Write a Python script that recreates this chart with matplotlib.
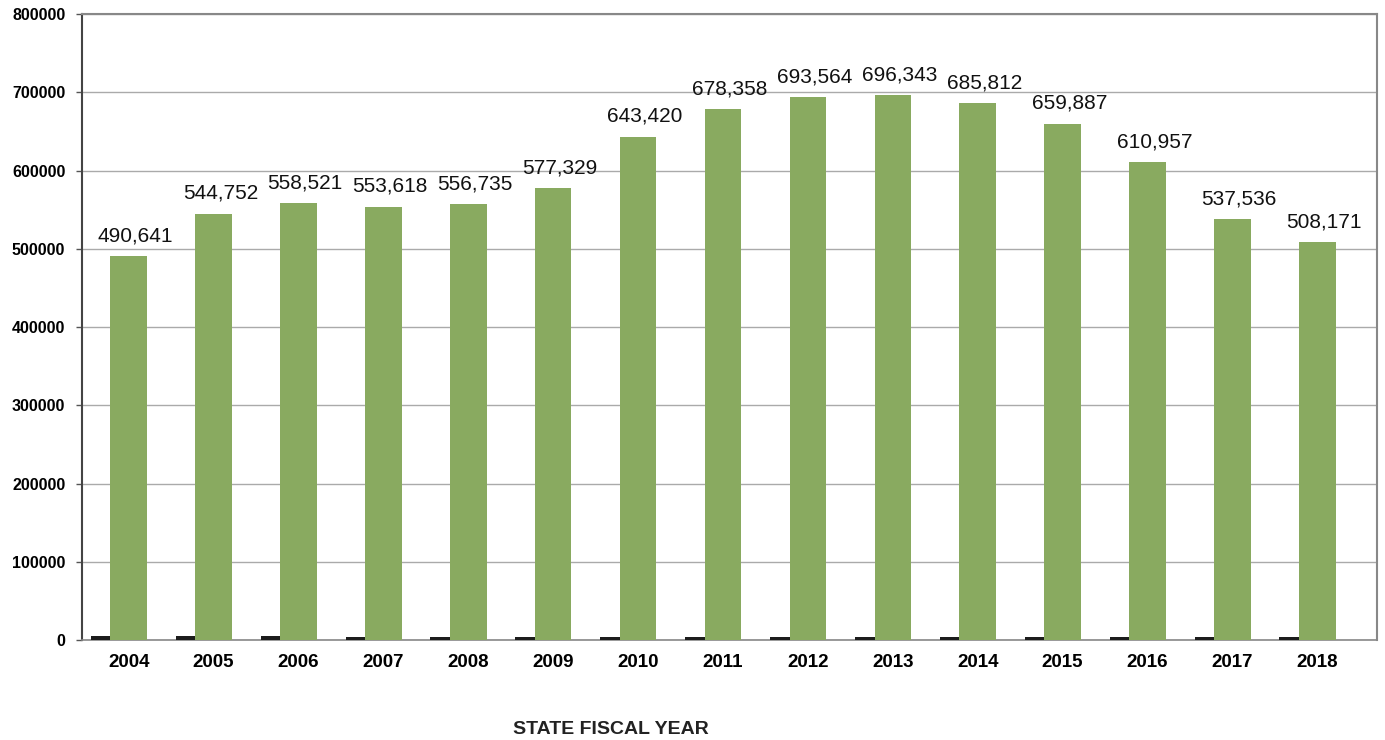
import matplotlib
matplotlib.use("Agg")
import matplotlib.pyplot as plt
import numpy as np

plt.rcParams['font.family'] = ['Liberation Sans', 'DejaVu Sans']

years = ["2004", "2005", "2006", "2007", "2008", "2009", "2010", "2011",
         "2012", "2013", "2014", "2015", "2016", "2017", "2018"]
enrollment = [490641, 544752, 558521, 553618, 556735, 577329, 643420, 678358,
              693564, 696343, 685812, 659887, 610957, 537536, 508171]
small_series = [5000, 4800, 4600, 4500, 4500, 4400, 4300, 4200,
                4200, 4100, 4100, 4000, 4000, 4000, 4000]
value_labels = ["490,641", "544,752", "558,521", "553,618", "556,735", "577,329",
                "643,420", "678,358", "693,564", "696,343", "685,812", "659,887",
                "610,957", "537,536", "508,171"]
y_ticks = [0, 100000, 200000, 300000, 400000, 500000, 600000, 700000, 800000]

fig = plt.figure(figsize=(13.85, 7.4), dpi=100)
ax = fig.add_axes([0.0592, 0.1351, 0.9348, 0.8459])

x = np.arange(len(years))
ax.bar(x - 0.32, small_series, width=0.25, color='#1c1c1c', zorder=3)
ax.bar(x, enrollment, width=0.43, color='#89aa60', zorder=3)

for xi, v, lab in zip(x, enrollment, value_labels):
    ax.text(xi + 0.08, v + 14000, lab, ha='center', va='bottom',
            fontsize=15, color='#111111')

ax.set_xlim(-0.55, 14.7)
ax.set_ylim(0, 800000)
ax.set_yticks(y_ticks)
ax.set_yticklabels([str(t) for t in y_ticks], fontsize=11.5, fontweight='bold')
ax.set_xticks(x)
ax.set_xticklabels(years, fontsize=13.5, fontweight='bold')
ax.tick_params(axis='x', length=0, pad=10)
ax.tick_params(axis='y', length=4, width=1, color='#555555', pad=8)
ax.yaxis.grid(True, color='#aaaaaa', linewidth=1, zorder=0)
ax.set_axisbelow(True)
for s in ['top', 'right']:
    ax.spines[s].set_color('#888888')
    ax.spines[s].set_linewidth(1.5)
ax.spines['left'].set_color('#444444')
ax.spines['left'].set_linewidth(1.5)
ax.spines['bottom'].set_color('#888888')
ax.spines['bottom'].set_linewidth(1.2)

fig.text(611 / 1385, 1 - 729 / 740, "STATE FISCAL YEAR", ha='center', va='center',
         fontsize=14, fontweight='bold', color='#222222')

fig.savefig("out.png", dpi=100, facecolor='white')
